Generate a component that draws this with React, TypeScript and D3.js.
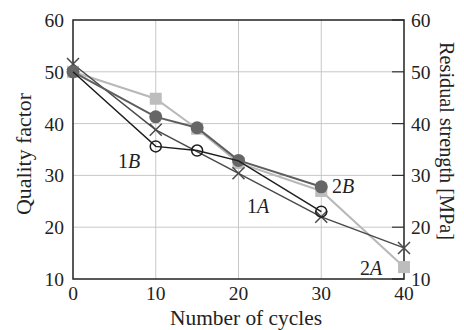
import React, { useRef, useEffect } from 'react';
import * as d3 from 'd3';

const yTicks = [10, 20, 30, 40, 50, 60];
const xTicks = [0, 10, 20, 30, 40];

const cycles1B = [0, 10, 15, 20, 30];
const values1B = [50, 35.6, 34.8, 32.8, 23.0];
const cycles1A = [0, 10, 20, 30, 40];
const values1A = [51.5, 38.8, 30.4, 22.0, 16.0];
const cycles2B = [0, 10, 15, 20, 30];
const values2B = [50, 41.3, 39.2, 32.9, 27.8];
const cycles2A = [0, 10, 15, 20, 30, 40];
const values2A = [50, 44.8, 39.0, 32.4, 27.0, 12.3];

const W = 464;
const H = 330;
const m = { left: 73, right: 60, top: 20, bottom: 51 };

const App = () => {
  const svgRef = useRef<SVGSVGElement>(null);

  useEffect(() => {
    const svg = d3.select(svgRef.current);
    svg.selectAll('*').remove();

    const x = d3.scaleLinear().domain([0, 40]).range([m.left, W - m.right]);
    const y = d3.scaleLinear().domain([10, 60]).range([H - m.bottom, m.top]);
    const font = 'Liberation Serif, Times New Roman, serif';

    // grid
    svg.append('g').selectAll('line').data(xTicks.slice(1, -1)).enter().append('line')
      .attr('x1', d => x(d)).attr('x2', d => x(d))
      .attr('y1', y(10)).attr('y2', y(60))
      .attr('stroke', '#c8c8c8').attr('stroke-width', 1);
    svg.append('g').selectAll('line').data(yTicks.slice(1, -1)).enter().append('line')
      .attr('x1', x(0)).attr('x2', x(40))
      .attr('y1', d => y(d)).attr('y2', d => y(d))
      .attr('stroke', '#c8c8c8').attr('stroke-width', 1);

    // right axis inward ticks
    svg.append('g').selectAll('line').data(yTicks).enter().append('line')
      .attr('x1', x(40) - 12).attr('x2', x(40))
      .attr('y1', d => y(d)).attr('y2', d => y(d))
      .attr('stroke', '#333').attr('stroke-width', 1.2);

    // frame
    svg.append('rect')
      .attr('x', x(0)).attr('y', y(60))
      .attr('width', x(40) - x(0)).attr('height', y(10) - y(60))
      .attr('fill', 'none').attr('stroke', '#222').attr('stroke-width', 1.5);

    const line = d3.line<[number, number]>().x(d => x(d[0])).y(d => y(d[1]));
    const pts = (c: number[], v: number[]) => c.map((cc, i) => [cc, v[i]] as [number, number]);

    const draw = (c: number[], v: number[], color: string, w: number) => {
      svg.append('path').datum(pts(c, v)).attr('d', line)
        .attr('fill', 'none').attr('stroke', color).attr('stroke-width', w);
    };

    // 2A light gray squares
    draw(cycles2A, values2A, '#b8b8b8', 2);
    svg.append('g').selectAll('rect').data(pts(cycles2A, values2A)).enter().append('rect')
      .attr('x', d => x(d[0]) - 6).attr('y', d => y(d[1]) - 6)
      .attr('width', 12).attr('height', 12).attr('fill', '#bdbdbd');

    // 1A dark gray crosses
    draw(cycles1A, values1A, '#4a4a4a', 1.5);
    svg.append('g').selectAll('path').data(pts(cycles1A, values1A)).enter().append('path')
      .attr('d', d => {
        const cx = x(d[0]), cy = y(d[1]), s = 6;
        return `M${cx - s},${cy - s}L${cx + s},${cy + s}M${cx - s},${cy + s}L${cx + s},${cy - s}`;
      })
      .attr('stroke', '#4a4a4a').attr('stroke-width', 1.5);

    // 2B gray filled circles
    draw(cycles2B, values2B, '#5e5e5e', 2);
    svg.append('g').selectAll('circle').data(pts(cycles2B, values2B)).enter().append('circle')
      .attr('cx', d => x(d[0])).attr('cy', d => y(d[1])).attr('r', 6.5)
      .attr('fill', '#666');

    // 1B black open circles
    draw(cycles1B, values1B, '#1e1e1e', 1.5);
    svg.append('g').selectAll('circle').data(pts(cycles1B, values1B).filter(d => d[0] !== 0 && d[0] !== 20)).enter().append('circle')
      .attr('cx', d => x(d[0])).attr('cy', d => y(d[1])).attr('r', 5.5)
      .attr('fill', 'none').attr('stroke', '#1e1e1e').attr('stroke-width', 1.5);

    // tick labels
    const tickText = (g: any) => g.style('font-family', font).attr('font-size', 19.5).attr('fill', '#222');
    svg.append('g').selectAll('text').data(yTicks).enter().append('text')
      .attr('x', x(0) - 9).attr('y', d => y(d) + 7).attr('text-anchor', 'end').text(d => d)
      .call(tickText);
    svg.append('g').selectAll('text').data(yTicks).enter().append('text')
      .attr('x', x(40) + 7).attr('y', d => y(d) + 7).attr('text-anchor', 'start').text(d => d)
      .call(tickText);
    svg.append('g').selectAll('text').data(xTicks).enter().append('text')
      .attr('x', d => x(d)).attr('y', y(10) + 21).attr('text-anchor', 'middle').text(d => d)
      .call(tickText);

    // titles
    svg.append('text').attr('x', 246).attr('y', 325)
      .attr('text-anchor', 'middle').text('Number of cycles').call(tickText).attr('font-size', 20)
      .attr('textLength', 152).attr('lengthAdjust', 'spacingAndGlyphs');
    svg.append('text').attr('transform', `translate(31,154) rotate(-90)`)
      .attr('text-anchor', 'middle').text('Quality factor').call(tickText).attr('font-size', 20)
      .attr('textLength', 122).attr('lengthAdjust', 'spacingAndGlyphs');
    svg.append('text').attr('transform', `translate(440,141) rotate(90)`)
      .attr('text-anchor', 'middle').text('Residual strength [MPa]').call(tickText).attr('font-size', 20)
      .attr('textLength', 198).attr('lengthAdjust', 'spacingAndGlyphs');

    // series labels
    const label = (tx: number, ty: number, num: string, let_: string) => {
      const t = svg.append('text').attr('x', tx).attr('y', ty).call(tickText).attr('font-size', 20);
      t.append('tspan').text(num);
      t.append('tspan').attr('font-style', 'italic').text(let_);
    };
    label(118, 168, '1', 'B');
    label(247, 213, '1', 'A');
    label(332, 193, '2', 'B');
    label(360, 275, '2', 'A');
  }, []);

  return <svg ref={svgRef} width={W} height={H} style={{ position: 'absolute', left: 0, top: 0 }}></svg>;
};

export default App;
